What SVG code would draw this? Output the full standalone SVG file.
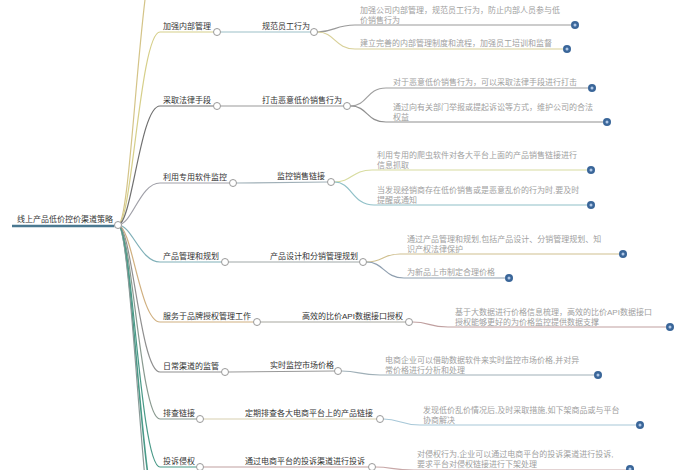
<svg xmlns="http://www.w3.org/2000/svg" width="700" height="470" viewBox="0 0 700 470">
<style>
text{font-family:"Liberation Sans","Noto Sans CJK SC",sans-serif;font-size:8px}
.n{fill:#333}
.l{fill:#a0a0a0}
.c{fill:none;stroke-width:1.2}
.h{fill:#fff;stroke:#999;stroke-width:1}
.d{fill:#3a6699}
.di{fill:#b0c8e8}
</style>
<rect width="700" height="470" fill="#fff"/>
<g id="connectors" class="c">
  <path d="M118,225 C132,225 140,-60 160,-60" stroke="#d4c488"/>
  <path d="M118,225 C132,225 142,520 160,520" stroke="#4a9a88" stroke-width="1.6"/>
  <path d="M118,225 C132,225 144,570 160,570" stroke="#8a9a98"/>
  <path d="M118,225 C132,225 140,32 160,32 L213.5,32" stroke="#d6cf8a"/>
  <path d="M118,225 C132,225 140,106 160,106 L213.5,106" stroke="#707070"/>
  <path d="M118,225 C132,225 140,183 160,183 L229.5,183" stroke="#a0a0a8"/>
  <path d="M118,225 C132,225 140,262 160,262 L221.5,262" stroke="#80b0b8"/>
  <path d="M118,225 C132,225 140,322 160,322 L253.5,322" stroke="#d0b080"/>
  <path d="M118,225 C132,225 140,372 160,372 L221.5,372" stroke="#909090"/>
  <path d="M118,225 C132,225 140,419 160,419 L196.5,419" stroke="#8a9a90"/>
  <path d="M118,225 C132,225 140,467 160,467 L196.5,467" stroke="#4a9a88"/>
  <path d="M220.5,32 L310.5,32" stroke="#9cc0c8"/>
  <path d="M220.5,106 L343.5,106" stroke="#999"/>
  <path d="M236.5,183 L327.5,182" stroke="#a0b0b8"/>
  <path d="M228.5,262 L359.5,262" stroke="#a0a8a8"/>
  <path d="M260.5,322 L405.5,322" stroke="#a8a8a0"/>
  <path d="M228.5,372 L334.5,371" stroke="#999"/>
  <path d="M203.5,419 L376.5,419" stroke="#d8d0b0"/>
  <path d="M203.5,467 L368.5,467" stroke="#c0a0a0"/>
  <path d="M317.5,32 C335,32 335,25 355,25 L571,25" stroke="#9a9a9a"/>
  <path d="M317.5,32 C335,32 335,49 355,49 L563,49" stroke="#d8d098"/>
  <path d="M350.5,106 C368,106 366,88 386,88 L588,88" stroke="#a0a0a0"/>
  <path d="M350.5,106 C368,106 366,122 386,122 L603,122" stroke="#909090"/>
  <path d="M334.5,182 C352,182 352,170 372,170 L587,170" stroke="#d8dca0"/>
  <path d="M334.5,182 C352,182 352,205 374,205 L587,205" stroke="#90c0c8"/>
  <path d="M366.5,262 C384,262 382,254 400,254 L619,254" stroke="#d0c090"/>
  <path d="M366.5,262 C384,262 384,278 404,278 L505,278" stroke="#90a0b0"/>
  <path d="M412.5,322 C430,322 428,327 448,327 L666,327" stroke="#c0a0a0"/>
  <path d="M341.5,371 C360,371 358,375 380,375 L594,375" stroke="#a0b0b8"/>
  <path d="M383.5,419 C400,419 400,425 420,425 L636,425" stroke="#a8c8d8"/>
  <path d="M375.5,467 C392,467 392,470 414,470 L626,470" stroke="#c8a8a8"/>
</g>
<g id="root">
  <line x1="12" y1="226" x2="114.5" y2="226" stroke="#4a7890" stroke-width="2.4"/>
  <text class="n" x="17" y="222">线上产品低价控价渠道策略</text>
  <circle class="h" cx="118" cy="225" r="3.5"/>
</g>
<g id="b1">
  <text class="n" x="163" y="29">加强内部管理</text>
  <circle class="h" cx="217" cy="32" r="3.5"/>
</g>
<g id="b1s">
  <text class="n" x="262" y="29">规范员工行为</text>
  <circle class="h" cx="314" cy="32" r="3.5"/>
</g>
<g id="b1l1">
  <text class="l" x="360" y="12.5">加强公司内部管理，规范员工行为，防止内部人员参与低</text>
  <text class="l" x="360" y="23">价销售行为</text>
  <circle class="d" cx="575" cy="25" r="4"/><circle class="di" cx="575" cy="25" r="1.5"/>
</g>
<g id="b1l2">
  <text class="l" x="360" y="46">建立完善的内部管理制度和流程，加强员工培训和监督</text>
  <circle class="d" cx="567" cy="49" r="4"/><circle class="di" cx="567" cy="49" r="1.5"/>
</g>
<g id="b2">
  <text class="n" x="163" y="103">采取法律手段</text>
  <circle class="h" cx="217" cy="106" r="3.5"/>
</g>
<g id="b2s">
  <text class="n" x="262" y="103">打击恶意低价销售行为</text>
  <circle class="h" cx="347" cy="106" r="3.5"/>
</g>
<g id="b2l1">
  <text class="l" x="393" y="85">对于恶意低价销售行为，可以采取法律手段进行打击</text>
  <circle class="d" cx="592" cy="88" r="4"/><circle class="di" cx="592" cy="88" r="1.5"/>
</g>
<g id="b2l2">
  <text class="l" x="393" y="109.5">通过向有关部门举报或提起诉讼等方式，维护公司的合法</text>
  <text class="l" x="393" y="120">权益</text>
  <circle class="d" cx="607" cy="122" r="4"/><circle class="di" cx="607" cy="122" r="1.5"/>
</g>
<g id="b3">
  <text class="n" x="163" y="180">利用专用软件监控</text>
  <circle class="h" cx="233" cy="183" r="3.5"/>
</g>
<g id="b3s">
  <text class="n" x="277" y="179">监控销售链接</text>
  <circle class="h" cx="331" cy="182" r="3.5"/>
</g>
<g id="b3l1">
  <text class="l" x="377" y="157.5">利用专用的爬虫软件对各大平台上面的产品销售链接进行</text>
  <text class="l" x="377" y="168">信息抓取</text>
  <circle class="d" cx="591" cy="170" r="4"/><circle class="di" cx="591" cy="170" r="1.5"/>
</g>
<g id="b3l2">
  <text class="l" x="377" y="192.5">当发现经销商存在低价销售或是恶意乱价的行为时,要及时</text>
  <text class="l" x="377" y="203">提醒或通知</text>
  <circle class="d" cx="591" cy="205" r="4"/><circle class="di" cx="591" cy="205" r="1.5"/>
</g>
<g id="b4">
  <text class="n" x="163" y="259">产品管理和规划</text>
  <circle class="h" cx="225" cy="262" r="3.5"/>
</g>
<g id="b4s">
  <text class="n" x="270" y="259">产品设计和分销管理规划</text>
  <circle class="h" cx="363" cy="262" r="3.5"/>
</g>
<g id="b4l1">
  <text class="l" x="407" y="241.5">通过产品管理和规划,包括产品设计、分销管理规划、知</text>
  <text class="l" x="407" y="252">识产权法律保护</text>
  <circle class="d" cx="623" cy="254" r="4"/><circle class="di" cx="623" cy="254" r="1.5"/>
</g>
<g id="b4l2">
  <text class="l" x="407" y="275">为新品上市制定合理价格</text>
  <circle class="d" cx="509" cy="278" r="4"/><circle class="di" cx="509" cy="278" r="1.5"/>
</g>
<g id="b5">
  <text class="n" x="163" y="319">服务于品牌授权管理工作</text>
  <circle class="h" cx="257" cy="322" r="3.5"/>
</g>
<g id="b5s">
  <text class="n" x="302" y="319">高效的比价API数据接口授权</text>
  <circle class="h" cx="409" cy="322" r="3.5"/>
</g>
<g id="b5l1">
  <text class="l" x="455" y="314.5">基于大数据进行价格信息梳理，高效的比价API数据接口</text>
  <text class="l" x="455" y="325">授权能够更好的为价格监控提供数据支撑</text>
  <circle class="d" cx="670" cy="327" r="4"/><circle class="di" cx="670" cy="327" r="1.5"/>
</g>
<g id="b6">
  <text class="n" x="163" y="369">日常渠道的监管</text>
  <circle class="h" cx="225" cy="372" r="3.5"/>
</g>
<g id="b6s">
  <text class="n" x="270" y="368">实时监控市场价格</text>
  <circle class="h" cx="338" cy="371" r="3.5"/>
</g>
<g id="b6l1">
  <text class="l" x="385" y="362.5">电商企业可以借助数据软件来实时监控市场价格,并对异</text>
  <text class="l" x="385" y="373">常价格进行分析和处理</text>
  <circle class="d" cx="598" cy="375" r="4"/><circle class="di" cx="598" cy="375" r="1.5"/>
</g>
<g id="b7">
  <text class="n" x="163" y="416">排查链接</text>
  <circle class="h" cx="200" cy="419" r="3.5"/>
</g>
<g id="b7s">
  <text class="n" x="245" y="416">定期排查各大电商平台上的产品链接</text>
  <circle class="h" cx="380" cy="419" r="3.5"/>
</g>
<g id="b7l1">
  <text class="l" x="423" y="412.5">发现低价乱价情况后,及时采取措施,如下架商品或与平台</text>
  <text class="l" x="423" y="423">协商解决</text>
  <circle class="d" cx="640" cy="425" r="4"/><circle class="di" cx="640" cy="425" r="1.5"/>
</g>
<g id="b8">
  <text class="n" x="163" y="464">投诉侵权</text>
  <circle class="h" cx="200" cy="467" r="3.5"/>
</g>
<g id="b8s">
  <text class="n" x="245" y="464">通过电商平台的投诉渠道进行投诉</text>
  <circle class="h" cx="372" cy="467" r="3.5"/>
</g>
<g id="b8l1">
  <text class="l" x="417" y="457">对侵权行为,企业可以通过电商平台的投诉渠道进行投诉,</text>
  <text class="l" x="417" y="467">要求平台对侵权链接进行下架处理</text>
  <circle class="d" cx="630" cy="469" r="4"/><circle class="di" cx="630" cy="469" r="1.5"/>
</g>
</svg>
